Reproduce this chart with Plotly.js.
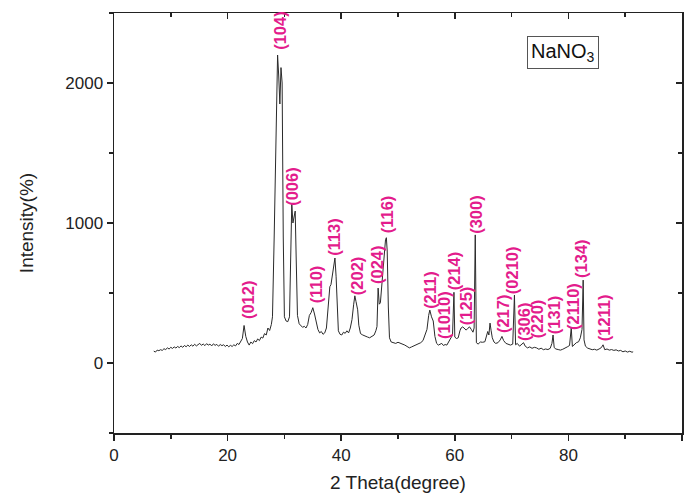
<!DOCTYPE html>
<html>
<head>
<meta charset="utf-8">
<script src="https://cdn.plot.ly/plotly-3.0.1.min.js"></script>
<style>html,body{margin:0;padding:0;background:#fff;}#chart{width:694px;height:495px;}</style>
</head>
<body>
<div id="chart"></div>
<script>
// ---- Data: XRD pattern of NaNO3 (2θ in degrees, intensity) ----
var twoTheta = [
  7.0,7.3,7.6,7.9,8.2,8.5,8.8,9.1,9.4,9.7,
  10.0,10.3,10.6,10.9,11.2,11.5,11.8,12.1,12.4,12.7,
  13.0,13.3,13.6,13.9,14.2,14.5,14.8,15.1,15.4,15.7,
  16.0,16.3,16.6,16.9,17.2,17.5,17.8,18.1,18.4,18.7,
  19.0,19.3,19.6,19.9,20.2,20.5,20.8,21.1,21.4,21.7,
  22.0,22.3,22.6,22.9,23.2,23.5,23.8,24.1,24.4,24.7,
  25.0,25.3,25.6,25.9,26.2,26.5,26.8,27.1,27.4,27.7,
  27.9,28.2,28.5,28.8,29.0,29.2,29.4,29.6,29.8,30.0,
  30.3,30.6,30.9,31.1,31.3,31.5,31.7,31.9,32.1,32.3,
  32.6,32.9,33.2,33.5,33.8,34.1,34.4,34.7,35.0,35.3,
  35.6,35.9,36.2,36.5,36.8,37.1,37.4,37.7,38.0,38.2,
  38.4,38.7,38.9,39.1,39.3,39.5,39.8,40.1,40.4,40.7,
  41.0,41.3,41.6,41.9,42.2,42.4,42.6,42.9,43.1,43.4,
  43.8,44.2,44.6,45.0,45.4,45.8,46.1,46.3,46.5,46.7,
  46.9,47.2,47.5,47.8,47.95,48.1,48.3,48.5,48.8,49.2,
  49.6,50.0,50.4,50.8,51.2,51.6,52.0,52.4,52.8,53.2,
  53.6,54.0,54.4,54.8,55.1,55.4,55.6,55.9,56.2,56.5,
  56.8,57.1,57.4,57.7,58.0,58.3,58.6,58.9,59.3,59.6,
  59.85,60.0,60.3,60.6,60.9,61.1,61.4,61.7,62.0,62.3,
  62.6,62.9,63.2,63.4,63.6,63.8,64.1,64.5,64.9,65.3,
  65.6,65.8,66.0,66.2,66.4,66.6,66.9,67.2,67.6,68.0,
  68.3,68.6,69.0,69.4,69.8,70.2,70.5,70.7,71.0,71.4,
  71.8,72.1,72.4,72.8,73.2,73.6,74.0,74.4,74.8,75.2,
  75.6,76.0,76.4,76.8,77.1,77.3,77.5,77.8,78.2,78.6,
  79.0,79.4,79.8,80.2,80.5,80.7,81.0,81.4,81.8,82.1,
  82.4,82.6,82.75,83.0,83.4,83.8,84.2,84.6,85.0,85.4,
  85.8,86.1,86.4,86.8,87.2,87.6,88.0,88.4,88.8,89.2,
  89.6,90.0,90.4,90.8,91.2,91.4
];
var intensity = [
  85,78,92,88,95,90,102,96,108,100,
  112,104,115,107,118,110,122,112,125,116,
  128,118,130,120,134,122,131,140,126,136,
  124,138,128,135,122,137,126,133,120,132,
  124,130,118,128,116,126,118,130,122,140,
  132,150,175,268,190,150,128,150,138,160,
  150,172,160,185,178,210,200,250,232,275,
  330,900,1700,2200,2050,1850,2110,2000,900,330,
  300,295,330,750,1140,1000,1050,1085,700,340,
  280,265,255,262,250,275,340,360,395,350,
  300,240,215,225,205,215,250,400,545,560,
  615,700,750,620,400,230,205,200,220,212,
  230,215,250,310,420,480,440,380,270,210,
  200,190,186,180,190,200,230,260,535,420,
  430,600,700,880,895,800,400,180,150,145,
  140,148,142,135,128,118,108,115,122,130,
  138,145,160,210,240,340,378,330,300,190,
  140,128,135,140,125,132,128,150,175,200,
  505,185,175,180,230,250,258,245,235,248,
  258,240,220,250,915,145,135,150,148,152,
  190,225,200,285,230,180,150,140,145,165,
  190,160,140,132,128,135,485,130,140,120,
  135,145,120,108,115,105,112,108,98,106,
  95,100,96,105,140,200,110,100,96,92,
  98,105,115,125,250,118,130,145,152,180,
  240,592,165,120,106,100,95,98,92,100,
  110,130,95,100,92,96,90,94,86,90,
  80,86,78,84,77,80
];
// Miller indices of the labelled reflections
var hklLabels = ['(012)','(104)','(006)','(110)','(113)','(202)','(024)','(116)','(211)','(1010)','(214)',
                 '(125)','(300)','(217)','(0210)','(306)','(220)','(131)','(2110)','(134)','(1211)'];
var peakTwoTheta = [23.6,29.2,31.3,35.6,38.7,42.8,46.3,48.1,55.6,58.1,59.9,
                    62.0,63.7,68.5,70.1,72.2,74.5,77.5,80.8,82.2,86.3];
var xTickVals = [0,20,40,60,80,100];
var yTickVals = [0,1000,2000];
var sampleName = 'NaNO<sub>3</sub>';

// ---- Layout (label heights in data units) ----
var labelHeights = [450,2379,1264,564,900,621,707,1064,521,343,657,
                    407,1064,350,664,293,314,343,407,750,321];

var FONT = 'Liberation Sans, Arial, sans-serif';
var annotations = hklLabels.map(function(t,i){
  return {x: peakTwoTheta[i], y: labelHeights[i], xref:'x', yref:'y', text: t,
    showarrow:false, textangle:-90, xanchor:'center', yanchor:'middle',
    font:{family:FONT, size:16.5, color:'#e31c8c', weight:'bold'}};
});
annotations.push({x:79.0, y:2221, xref:'x', yref:'y', text: sampleName, showarrow:false,
  xanchor:'center', yanchor:'middle', font:{family:FONT, size:20, color:'#111'},
  bordercolor:'#555', borderwidth:1, borderpad:3, bgcolor:'#fff'});

var traces = [
  {x: twoTheta, y: intensity, type:'scatter', mode:'lines',
   line:{color:'#2a2a2a', width:1}, showlegend:false, hoverinfo:'x+y'},
  {x: [], y: [], xaxis:'x2', yaxis:'y2', type:'scatter', mode:'lines', showlegend:false, hoverinfo:'skip'}
];

var axCommon = {showgrid:false, zeroline:false, linecolor:'#222', linewidth:1.5,
  tickcolor:'#222', tickwidth:1.5, ticklen:6};
var layout = {
  width:694, height:495,
  margin:{l:114, r:12, t:13, b:62},
  paper_bgcolor:'#fff', plot_bgcolor:'#fff',
  font:{family:FONT, color:'#222'},
  xaxis: Object.assign({}, axCommon, {range:[0,100], tickvals:xTickVals, ticks:'outside',
    showline:true, tickfont:{size:17, color:'#222'},
    minor:{dtick:10, tick0:0, ticks:'outside', ticklen:4, tickcolor:'#222', tickwidth:1.5},
    title:{text:'2 Theta(degree)', font:{size:19, color:'#222'}, standoff:12}}),
  yaxis: Object.assign({}, axCommon, {range:[-500,2500], tickvals:yTickVals, ticks:'outside',
    showline:true, tickfont:{size:17, color:'#222'},
    minor:{dtick:500, tick0:0, ticks:'outside', ticklen:4, tickcolor:'#222', tickwidth:1.5},
    title:{text:'Intensity(%)', font:{size:19, color:'#222'}, standoff:26}}),
  xaxis2: Object.assign({}, axCommon, {range:[0,100], tickvals:xTickVals, ticks:'inside',
    overlaying:'x', side:'top', anchor:'y', showline:true, showticklabels:false,
    minor:{dtick:10, tick0:0, ticks:'inside', ticklen:4, tickcolor:'#222', tickwidth:1.5}}),
  yaxis2: Object.assign({}, axCommon, {range:[-500,2500], tickvals:yTickVals, ticks:'inside',
    overlaying:'y', side:'right', anchor:'x', showline:true, showticklabels:false,
    minor:{dtick:500, tick0:0, ticks:'inside', ticklen:4, tickcolor:'#222', tickwidth:1.5}}),
  annotations: annotations
};

Plotly.newPlot('chart', traces, layout, {staticPlot:true, displayModeBar:false});
</script>
</body>
</html>
